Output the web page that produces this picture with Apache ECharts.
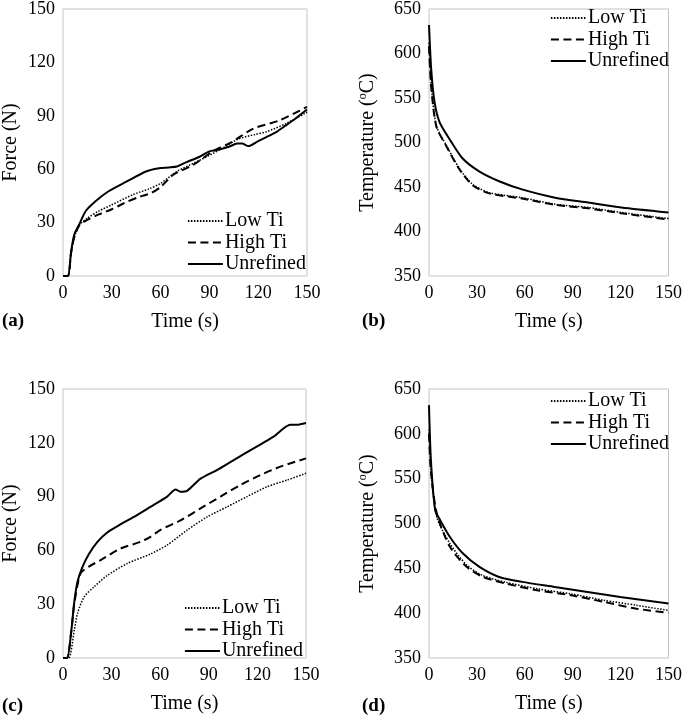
<!DOCTYPE html>
<html>
<head>
<meta charset="utf-8">
<script src="https://cdn.jsdelivr.net/npm/echarts@6/dist/echarts.min.js"></script>
<style>
html,body{margin:0;padding:0;background:#fff;}
#chart{width:685px;height:718px;}
</style>
</head>
<body>
<div id="chart"></div>
<script>
// ---------- Data ----------
const seriesNames = ['Low Ti', 'High Ti', 'Unrefined'];
const timeTicks = [0, 30, 60, 90, 120, 150];
const forceTicks = [0, 30, 60, 90, 120, 150];
const tempTicks = [350, 400, 450, 500, 550, 600, 650];

// Panel (a): Force vs time
const aLowT  = [0, 3, 5, 7, 10, 15, 22, 30, 43, 53, 60, 70, 84, 96, 108, 118, 125, 137, 150];
const aLowF  = [0, 0, 13, 22, 28.5, 32.5, 36.5, 40, 45.7, 49, 52, 58.7, 65, 70.7, 77, 79.5, 81, 85.6, 92];
const aHighT = [0, 3, 5, 7, 10, 15, 22, 30, 40, 47, 54, 60, 68, 80, 92, 104, 117, 133, 150];
const aHighF = [0, 0, 13, 22, 28.5, 31.5, 34.6, 37.5, 42, 44.5, 46.5, 50, 57, 62.4, 70, 75.4, 82.8, 87.4, 95];
const aUnrT  = [0, 3, 5, 7, 10, 14, 20, 28, 39, 51, 59, 65, 70, 76, 84, 90, 96, 102, 107, 110, 114, 120, 125, 131, 137, 143, 150];
const aUnrF  = [0, 0, 14, 23.5, 29, 36.5, 42, 47.6, 53, 58.7, 60.5, 61, 61.5, 64, 67, 70, 71, 72.6, 74.4, 74.5, 73, 75.8, 78, 80.8, 84.6, 88.5, 93.5];

// Panel (b): Temperature vs time
const bLowT  = [0, 1.4, 4.6, 10.8, 19, 27.3, 37.7, 58.3, 79, 99.7, 120.4, 150];
const bLowV  = [612, 564, 519, 497, 471, 453, 443.6, 438, 430.6, 427, 421.4, 414.5];
const bHighT = [0, 1.4, 4.6, 10.8, 19, 27.3, 37.7, 58.3, 79, 99.7, 120.4, 150];
const bHighV = [608, 562, 518, 496, 470, 452, 442.8, 437, 430, 426, 420.5, 413.5];
const bUnrT  = [0, 1.4, 3.5, 6.6, 12.8, 21.1, 31.4, 43.9, 58.3, 79, 99.7, 120.4, 150];
const bUnrV  = [632, 582, 545, 523, 504, 482, 467.6, 456.5, 447.3, 438, 432.5, 427, 421.4];

// Panel (c): Force vs time
const cLowT  = [0, 3.5, 7, 9, 13, 19.3, 27.3, 39.7, 54, 64.3, 76.6, 89, 101.3, 113.6, 126, 138.3, 150];
const cLowF  = [0, 0, 15.6, 25, 34, 39.8, 46, 52.7, 58, 63, 71.3, 78.7, 84.3, 90, 95.5, 99.2, 103];
const cHighT = [0, 2.5, 5, 6.8, 8.8, 11, 16, 23, 35.5, 47.9, 54, 60.2, 72.5, 84.9, 97.2, 109.5, 121.8, 134.2, 150];
const cHighF = [0, 0, 14, 29, 40, 47.4, 51, 54.5, 61, 64.8, 67.6, 71.5, 76.7, 83.4, 90, 96.5, 102, 106.7, 111.3];
const cUnrT  = [0, 2.5, 5, 6.8, 8.8, 11.9, 16, 21, 27.3, 35.5, 43.8, 54, 64.3, 69.5, 72.5, 76.6, 84.9, 95, 105.4, 117.7, 130, 140.3, 144.4, 150];
const cUnrF  = [0, 0, 14, 30, 42, 50.5, 58, 64.5, 70, 74.5, 78.7, 84.3, 90, 94, 92.7, 93.2, 100, 104.8, 110.4, 116.9, 123.4, 130, 130, 131];

// Panel (d): Temperature vs time
const dLowT  = [0, 1.2, 4.9, 13.1, 23.4, 33.7, 48, 68.5, 89, 109.6, 130, 150];
const dLowV  = [605, 560, 507, 477.6, 454, 442, 434.5, 427, 421.5, 414.4, 408.8, 403];
const dHighT = [0, 1.2, 4.9, 13.1, 23.4, 33.7, 48, 68.5, 89, 109.6, 130, 150];
const dHighV = [600, 558, 511, 474, 452, 440.5, 433, 425.3, 420, 412.5, 405, 400.5];
const dUnrT  = [0, 1.2, 3.9, 7, 13.1, 21.3, 31.6, 43.9, 58.3, 78.8, 99.3, 119.8, 150];
const dUnrV  = [632, 570.5, 514.6, 503.7, 485, 466.5, 451.6, 440.4, 434.9, 429.3, 423.7, 418, 410.7];

const panelLabels = ['(a)', '(b)', '(c)', '(d)'];

// ---------- Build ----------
const FONT = '"Liberation Serif", "Times New Roman", serif';
const zip = (t, v) => t.map((x, i) => [x, v[i]]);

const lineStyles = {
  'Low Ti':    { type: [1.5, 1.5], width: 1.5, color: '#000' },
  'High Ti':   { type: [8, 4.5], width: 2, color: '#000' },
  'Unrefined': { type: 'solid', width: 2, color: '#000' }
};

const panels = [
  { data: [[aLowT, aLowF], [aHighT, aHighF], [aUnrT, aUnrF]], grid: { left: 63, top: 6, width: 244, height: 270 }, force: true,
    yName: 'Force (N)', yGap: 42, legend: { right: 379, top: 211 } },
  { data: [[bLowT, bLowV], [bHighT, bHighV], [bUnrT, bUnrV]], grid: { left: 429, top: 6, width: 242, height: 270 }, force: false,
    yName: 'Temperature ({sup|o}C)', yGap: 51, legend: { right: 16, top: 8 } },
  { data: [[cLowT, cLowF], [cHighT, cHighF], [cUnrT, cUnrF]], grid: { left: 62, top: 389, width: 244, height: 269 }, force: true,
    yName: 'Force (N)', yGap: 42, legend: { right: 382, top: 598 } },
  { data: [[dLowT, dLowV], [dHighT, dHighV], [dUnrT, dUnrV]], grid: { left: 429, top: 389, width: 243, height: 269 }, force: false,
    yName: 'Temperature ({sup|o}C)', yGap: 51, legend: { right: 16, top: 391 } }
];

const option = {
  animation: false,
  backgroundColor: '#fff',
  textStyle: { fontFamily: FONT, color: '#000' },
  title: [], grid: [], xAxis: [], yAxis: [], series: [], legend: []
};

const labelPos = [
  { left: 2, top: 312 }, { left: 362, top: 312 }, { left: 2, top: 697 }, { left: 362, top: 697 }
];

panels.forEach((p, i) => {
  option.grid.push(Object.assign({ show: true, borderColor: '#c4c4c4', borderWidth: 1, containLabel: false }, p.grid));
  option.xAxis.push({
    gridIndex: i, type: 'value', min: timeTicks[0], max: timeTicks[timeTicks.length - 1], interval: timeTicks[1] - timeTicks[0],
    name: 'Time (s)', nameLocation: 'middle', nameGap: 36,
    nameTextStyle: { fontFamily: FONT, fontSize: 20, color: '#000' },
    axisLine: { show: false }, axisTick: { show: false }, splitLine: { show: false },
    axisLabel: { fontFamily: FONT, fontSize: 18, color: '#000', margin: 8 }
  });
  const ticks = p.force ? forceTicks : tempTicks;
  option.yAxis.push({
    gridIndex: i, type: 'value', min: ticks[0], max: ticks[ticks.length - 1], interval: ticks[1] - ticks[0],
    name: p.yName, nameLocation: 'middle', nameGap: p.yGap,
    nameTextStyle: { fontFamily: FONT, fontSize: 20, color: '#000',
      rich: { sup: { fontFamily: FONT, fontSize: 12, color: '#000', verticalAlign: 'top', padding: [0, 0, 9, 0] } } },
    axisLine: { show: false }, axisTick: { show: false }, splitLine: { show: false },
    axisLabel: { fontFamily: FONT, fontSize: 18, color: '#000', margin: 8 }
  });
  seriesNames.forEach((name, k) => {
    option.series.push({
      name: name, type: 'line', xAxisIndex: i, yAxisIndex: i,
      data: zip(p.data[k][0], p.data[k][1]),
      showSymbol: false, symbol: 'none', smooth: 0.25,
      lineStyle: lineStyles[name], itemStyle: { color: '#000' },
      emphasis: { disabled: true }, silent: true, z: 3 - k
    });
  });
  option.legend.push(Object.assign({
    orient: 'vertical', align: 'left', data: seriesNames, padding: 0,
    itemWidth: 35, itemHeight: 12, itemGap: 1.5, selectedMode: false,
    itemStyle: { opacity: 0 },
    textStyle: { fontFamily: FONT, fontSize: 20, color: '#000', padding: [0, 0, 0, -3], lineHeight: 19 }
  }, p.legend));
  option.title.push(Object.assign({
    text: panelLabels[i], padding: 0,
    textStyle: { fontFamily: FONT, fontSize: 19, fontWeight: 'bold', color: '#000' }
  }, labelPos[i]));
});

const chart = echarts.init(document.getElementById('chart'), null, { renderer: 'canvas' });
chart.setOption(option);
</script>
</body>
</html>
